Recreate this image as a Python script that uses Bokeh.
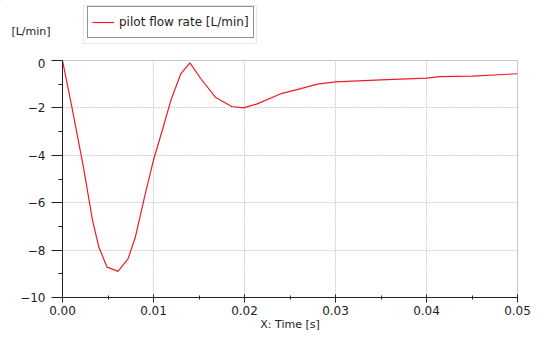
from bokeh.plotting import figure
from bokeh.models import (FixedTicker, Range1d, Legend, LegendItem, Label,
                          BoxAnnotation, NumeralTickFormatter, Column, Row)
from bokeh.embed import file_html
from bokeh.resources import INLINE

time_s = [0.0, 0.0010, 0.0023, 0.0033, 0.0040, 0.0049, 0.0061, 0.0072, 0.0080,
          0.0091, 0.0100, 0.0110, 0.0119, 0.0130, 0.0140, 0.0152, 0.0168,
          0.0186, 0.0199, 0.0214, 0.0240, 0.0262, 0.0280, 0.0300, 0.0350,
          0.0400, 0.0415, 0.0450, 0.0490, 0.0500]
flow = [0.0, -1.9, -4.5, -6.75, -7.88, -8.72, -8.9, -8.37, -7.46,
        -5.62, -4.2, -2.9, -1.69, -0.56, -0.1, -0.77, -1.55,
        -1.94, -2.0, -1.83, -1.4, -1.19, -1.0, -0.9, -0.82,
        -0.74, -0.68, -0.66, -0.58, -0.56]

x_ticks = [0.0, 0.01, 0.02, 0.03, 0.04, 0.05]
x_minor = [0.005, 0.015, 0.025, 0.035, 0.045]
y_ticks = [-10, -8, -6, -4, -2, 0]
y_minor = [-9, -7, -5, -3, -1]
series_name = "pilot flow rate [L/min]"
y_unit = "[L/min]"
x_title = "X: Time [s]"

FONT = "DejaVu Sans"
LINE_COLOR = "#ee1c25"
TEXT_COLOR = "#222222"

# ---------------- header strip (legend + unit label) ----------------
HEAD_H = 58
top = figure(width=552, height=HEAD_H, output_backend="svg", toolbar_location=None,
             x_range=Range1d(0.1, 552.1), y_range=Range1d(HEAD_H, 0),
             x_axis_location=None, y_axis_location=None, min_border=0)
top.grid.visible = False
top.outline_line_color = None
top.background_fill_color = "white"
top.border_fill_color = "white"

# same series, lying outside this strip's view; used for the legend swatch
legend_line = top.line(time_s, flow, line_color=LINE_COLOR, line_width=1.2)

top.add_layout(Label(x=11, y=31, text=y_unit, text_font=FONT,
                     text_font_size="11px", text_color=TEXT_COLOR,
                     text_baseline="middle"))
top.add_layout(BoxAnnotation(left=83, right=256, top=5, bottom=43,
                             fill_alpha=0, line_color="#555555",
                             line_dash="1 1", line_width=1))
legend = Legend(items=[LegendItem(label=series_name, renderers=[legend_line])],
                location=(87, HEAD_H - 38), label_text_font=FONT,
                label_text_font_size="12px", label_text_color=TEXT_COLOR,
                border_line_color=TEXT_COLOR, border_line_width=1,
                glyph_width=22, glyph_height=22, label_height=22,
                padding=4, margin=0, label_standoff=5,
                background_fill_alpha=1)
top.add_layout(legend, "center")

# ---------------- main plot ----------------
p = figure(width=552, height=349 - HEAD_H, output_backend="svg",
           toolbar_location=None,
           x_range=Range1d(0, 0.05), y_range=Range1d(-10, 0),
           min_border_left=62, min_border_right=35, min_border_top=2,
           min_border_bottom=52)
p.background_fill_color = "white"
p.border_fill_color = "white"
p.outline_line_color = "#c8c8c8"

p.line(time_s, flow, line_color=LINE_COLOR, line_width=1.2)

for ax in (p.xaxis[0], p.yaxis[0]):
    ax.axis_line_color = TEXT_COLOR
    ax.major_tick_line_color = TEXT_COLOR
    ax.minor_tick_line_color = TEXT_COLOR
    ax.major_label_text_font = FONT
    ax.major_label_text_font_size = "12px"
    ax.major_label_text_color = TEXT_COLOR
    ax.axis_label_text_font = FONT
    ax.axis_label_text_font_style = "normal"
    ax.axis_label_text_font_size = "11px"
    ax.axis_label_text_color = TEXT_COLOR

p.xaxis.ticker = FixedTicker(ticks=x_ticks, minor_ticks=x_minor)
p.xaxis.formatter = NumeralTickFormatter(format="0.00")
p.xaxis.major_tick_in = 3
p.xaxis.major_tick_out = 5
p.xaxis.minor_tick_in = 2
p.xaxis.minor_tick_out = 2
p.xaxis.major_label_standoff = 3
p.xaxis.axis_label = x_title
p.xaxis.axis_label_standoff = 0

p.yaxis.ticker = FixedTicker(ticks=y_ticks, minor_ticks=y_minor)
p.yaxis.major_tick_in = 0
p.yaxis.major_tick_out = 11
p.yaxis.minor_tick_in = 0
p.yaxis.minor_tick_out = 4
p.yaxis.major_label_standoff = 6

p.xgrid.ticker = FixedTicker(ticks=x_ticks)
p.ygrid.ticker = FixedTicker(ticks=y_ticks)
for g in (p.xgrid[0], p.ygrid[0]):
    g.grid_line_color = "#cfcfcf"
    g.grid_line_dash = "2 1"
    g.grid_line_width = 1

layout = Column(children=[Row(children=[top]), p], spacing=0)
open("out.html", "w").write(file_html(layout, INLINE))
